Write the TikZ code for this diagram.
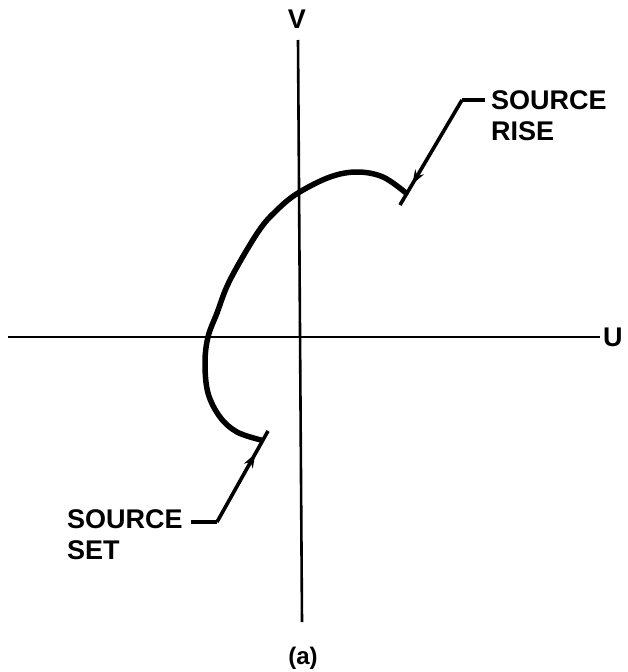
\documentclass[tikz,border=0pt]{standalone}
\usepackage{fontspec}
\setmainfont{Liberation Sans}
\usetikzlibrary{arrows.meta,decorations.markings}
\tikzset{
  axis/.style={line width=2.6pt},
  trace/.style={line width=5.5pt,line cap=round,line join=round},
  leader/.style={line width=3.6pt,postaction={decorate},
    decoration={markings,mark=at position #1 with {\arrow{Stealth[length=14pt,width=10pt]}}}},
  lab/.style={font=\fontsize{27}{31}\selectfont\bfseries,inner sep=0pt,align=left}
}
\begin{document}
\begin{tikzpicture}[x=1pt,y=-1pt]
  \useasboundingbox (0,0) rectangle (628,672);
  % axes
  \coordinate (vtop) at (298,40);  \coordinate (vbot) at (302,622);
  \coordinate (uleft) at (8,337);  \coordinate (uright) at (600,337);
  \draw[axis] (vtop) -- (vbot);
  \draw[axis] (uleft) -- (uright);
  \node[lab] (vlab) at (297,19) {V};
  \node[lab,anchor=west] (ulab) at (603,337) {U};
  % locus of the source
  \draw[trace] plot[smooth,tension=0.6] coordinates {(406,193) (383,177) (357,172) (330,177)
    (298,193) (277,210) (258,232) (230,280) (217,313) (208,337) (205,363) (208,393)
    (220,417) (237,432) (261,440)};
  % source rise
  \node[lab,anchor=north west] (riselab) at (491,90) {SOURCE\\RISE};
  \coordinate (riseknee) at (462,100); \coordinate (riseend) at (400,205);
  \draw[line width=3.6pt] (riselab.west |- riseknee) ++(-6,0) -- (riseknee);
  \draw[leader=0.8] (riseknee) -- (riseend);
  % source set
  \node[lab,anchor=north west] (setlab) at (67,509) {SOURCE\\SET};
  \coordinate (setknee) at (217,522); \coordinate (setend) at (268,431);
  \draw[line width=3.6pt] (setlab.east |- setknee) ++(8,0) -- (setknee);
  \draw[leader=0.75] (setknee) -- (setend);
  % caption
  \node[font=\fontsize{24}{28}\selectfont\bfseries] (cap) at (303,658) {(a)};
\end{tikzpicture}
\end{document}
